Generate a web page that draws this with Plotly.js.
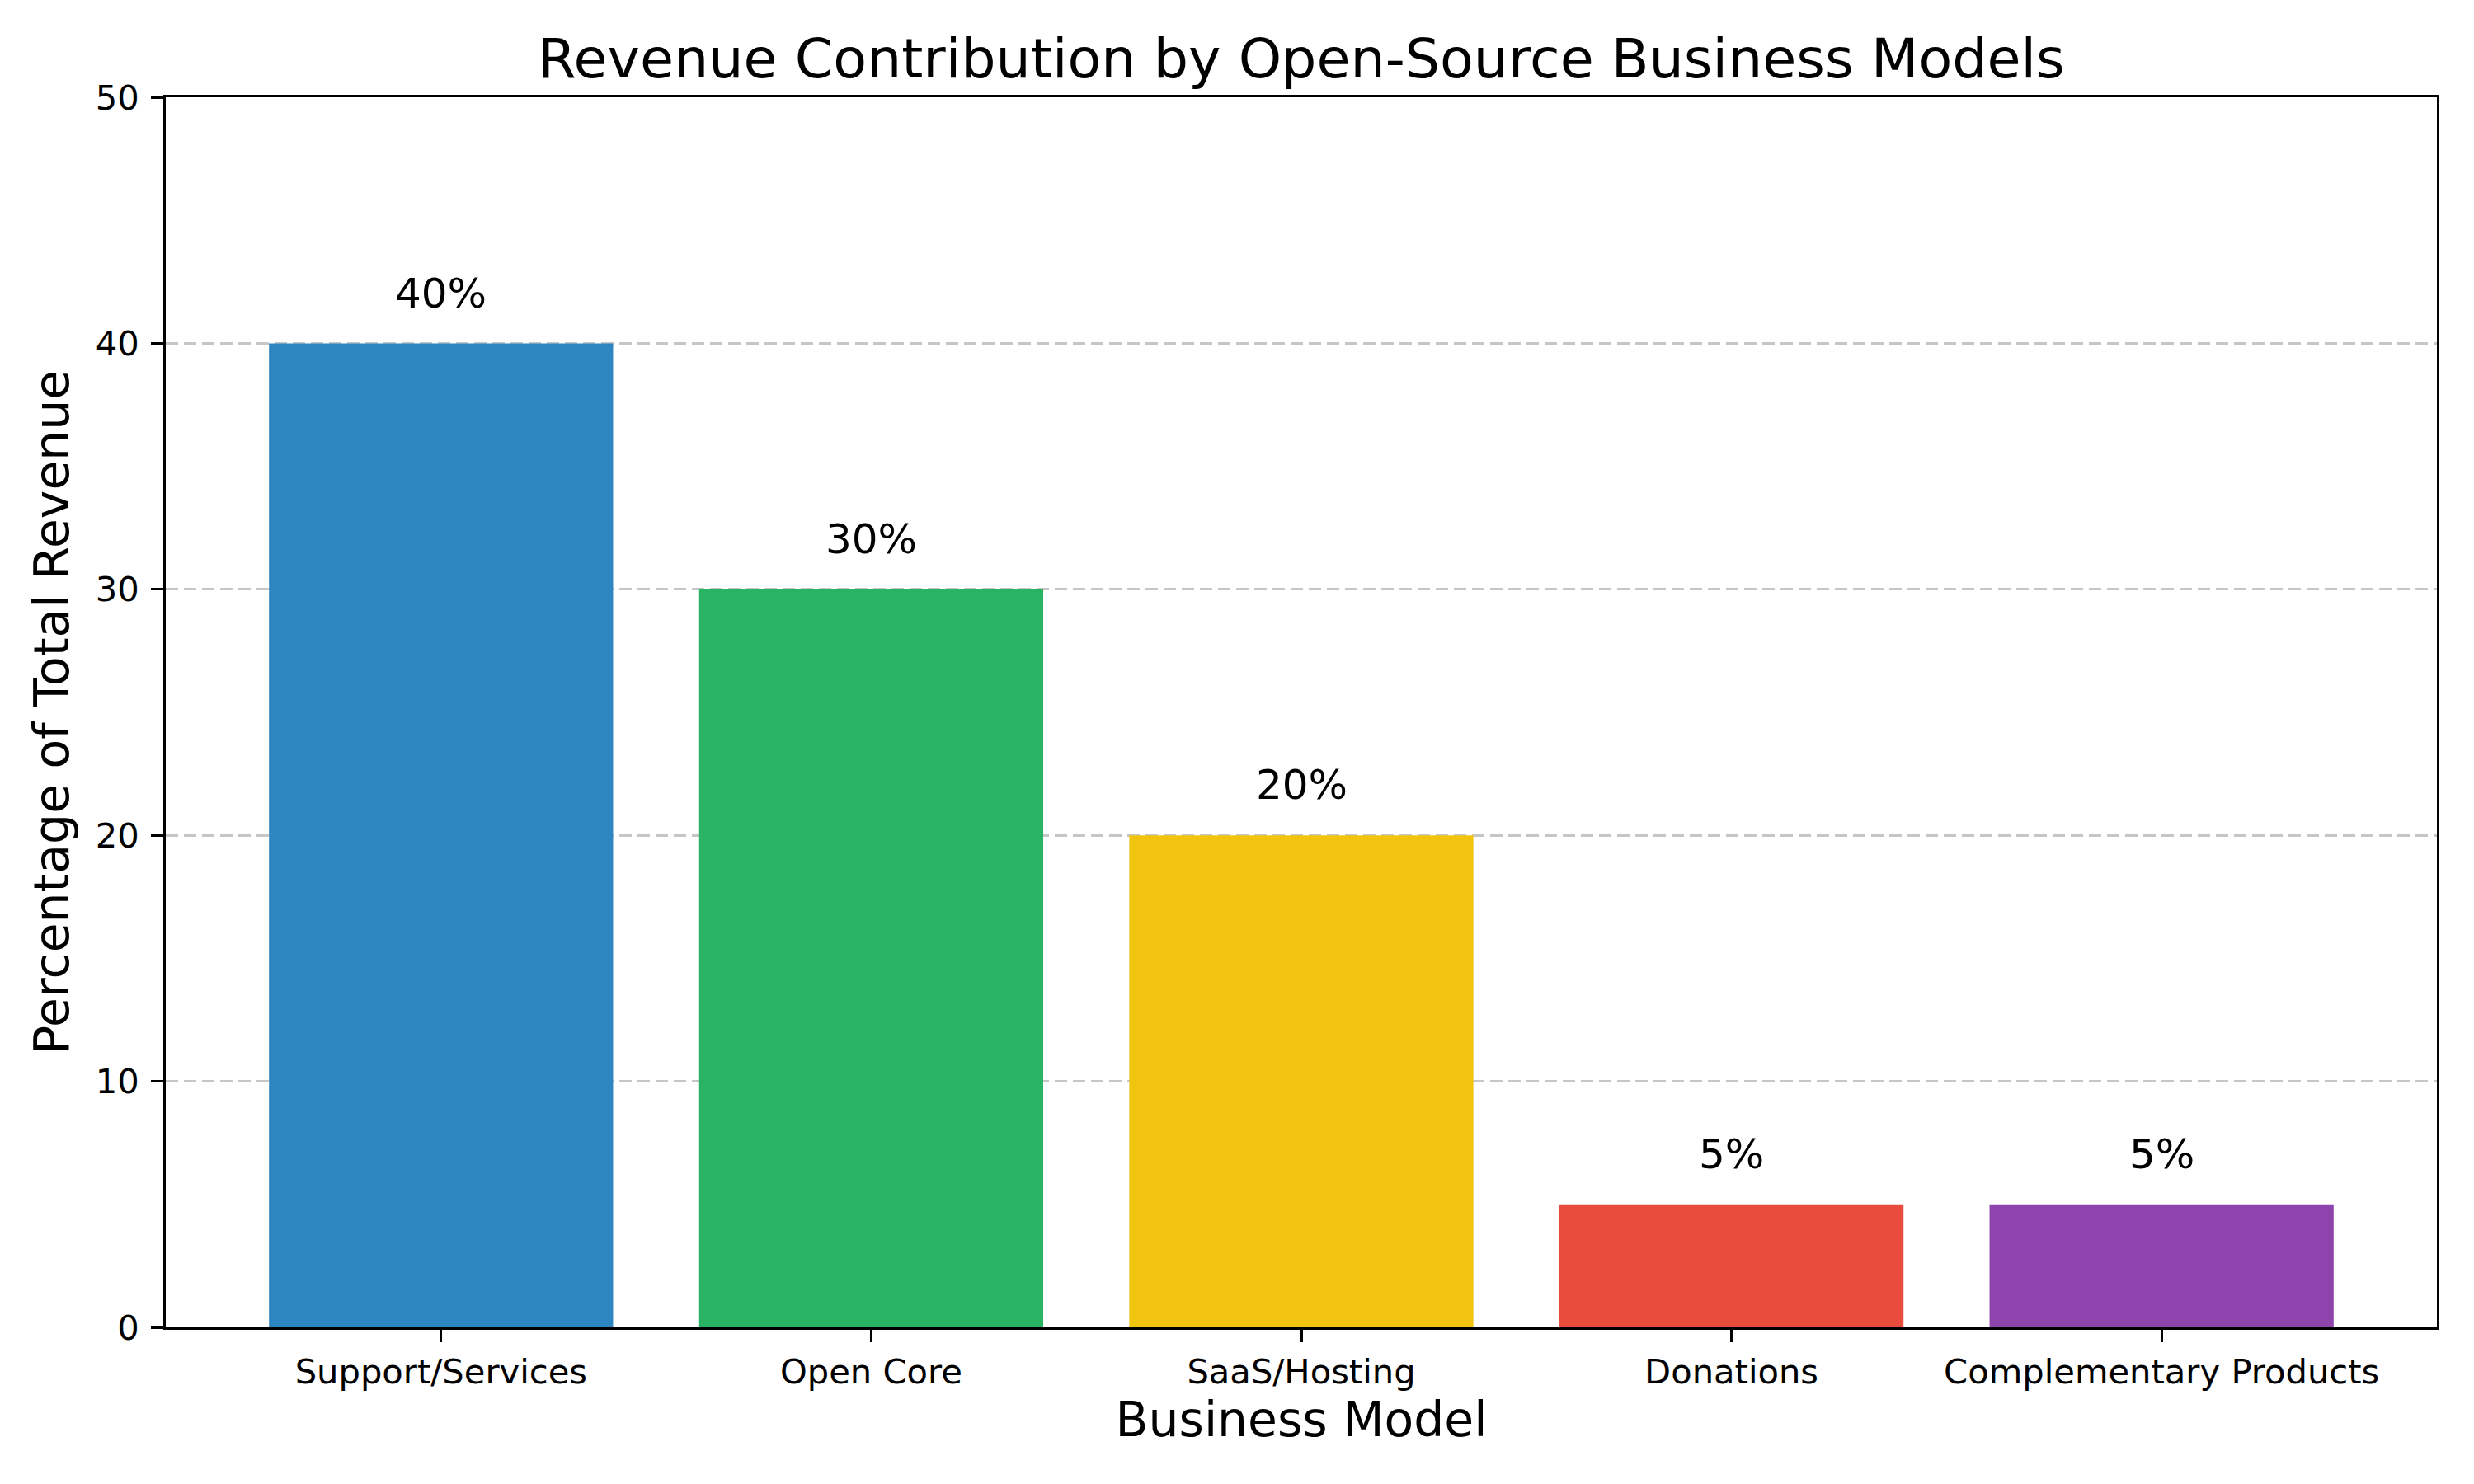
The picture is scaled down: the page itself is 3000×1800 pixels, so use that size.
<!DOCTYPE html>
<html>
<head>
<meta charset="utf-8">
<script src="https://cdn.plot.ly/plotly-3.0.1.min.js"></script>
<style>html,body{margin:0;padding:0;background:#fff;}#chart{width:3000px;height:1800px;}</style>
</head>
<body>
<div id="chart"></div>
<script>
const categories = ["Support/Services", "Open Core", "SaaS/Hosting", "Donations", "Complementary Products"];
const values = [40, 30, 20, 5, 5];
const colors = ["#2E86C1", "#28B463", "#F1C40F", "#E74C3C", "#8E44AD"];
const yTicks = [0, 10, 20, 30, 40, 50];

const FONT = "DejaVu Sans, sans-serif";
const PT = 300 / 72;

const trace = {
  type: "bar",
  x: categories,
  y: values,
  width: 0.8,
  marker: { color: colors, line: { width: 0 } },
  hoverinfo: "skip"
};

const annotations = categories.map((c, i) => ({
  x: c,
  y: values[i] + 1,
  xref: "x",
  yref: "y",
  text: values[i] + "%",
  showarrow: false,
  xanchor: "center",
  yanchor: "bottom",
  font: { family: FONT, size: 12 * PT, color: "#000" }
}));

const layout = {
  width: 3000,
  height: 1800,
  paper_bgcolor: "#fff",
  plot_bgcolor: "#fff",
  margin: { l: 201, r: 45, t: 118, b: 190, pad: 0 },
  font: { family: FONT, color: "#000" },
  title: {
    text: "Revenue Contribution by Open-Source Business Models",
    font: { family: FONT, size: 16 * PT, color: "#000" },
    x: 0.5, xref: "paper", xanchor: "center",
    y: 1, yref: "paper", yanchor: "bottom",
    pad: { b: 24 }
  },
  xaxis: {
    type: "category",
    range: [-0.64, 4.64],
    showline: true, mirror: true, linecolor: "#000", linewidth: 3.3,
    ticks: "outside", ticklen: 14.6, tickwidth: 3.3, tickcolor: "#000",
    tickfont: { family: FONT, size: 10 * PT, color: "#000" },
    showgrid: false, zeroline: false,
    automargin: false,
    title: { text: "Business Model", font: { family: FONT, size: 14 * PT, color: "#000" }, standoff: 14 }
  },
  yaxis: {
    range: [0, 50],
    tickvals: yTicks,
    ticktext: yTicks.map(String),
    showline: true, mirror: true, linecolor: "#000", linewidth: 3.3,
    ticks: "outside", ticklen: 14.6, tickwidth: 3.3, tickcolor: "#000",
    ticklabelstandoff: 6,
    tickfont: { family: FONT, size: 10 * PT, color: "#000" },
    showgrid: true, gridcolor: "#c6c6c6", gridwidth: 3, griddash: "15px,7px",
    zeroline: false,
    automargin: false,
    title: { text: "Percentage of Total Revenue", font: { family: FONT, size: 14 * PT, color: "#000" }, standoff: 14 }
  },
  annotations: annotations,
  showlegend: false,
  bargap: 0.2
};

Plotly.newPlot("chart", [trace], layout, { staticPlot: true, displayModeBar: false });
</script>
</body>
</html>
